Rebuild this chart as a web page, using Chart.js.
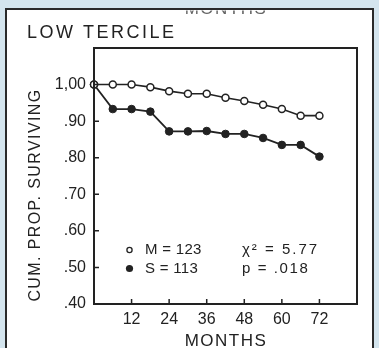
<!DOCTYPE html>
<html>
<head>
<meta charset="utf-8">
<script src="https://cdn.jsdelivr.net/npm/chart.js@4"></script>
<style>
  html, body { margin: 0; padding: 0; background: #d4e5ee; }
  #wrap { width: 379px; height: 348px; }
</style>
</head>
<body>
<div id="wrap"><canvas id="chart"></canvas></div>
<script>
// data
var months = [0, 6, 12, 18, 24, 30, 36, 42, 48, 54, 60, 66, 72];
var survM = [1.00, 1.00, 1.00, 0.993, 0.982, 0.975, 0.975, 0.964, 0.955, 0.945, 0.933, 0.915, 0.915];
var survS = [1.00, 0.933, 0.933, 0.926, 0.872, 0.872, 0.873, 0.865, 0.865, 0.854, 0.835, 0.835, 0.803];
var xTickValues = [12, 24, 36, 48, 60, 72];
var yTickValues = [1.00, 0.90, 0.80, 0.70, 0.60, 0.50, 0.40];
var yTickLabels = ['1,00', '.90', '.80', '.70', '.60', '.50', '.40'];

var ink = '#222';
var font = "'Liberation Sans', Arial, sans-serif";

function txt(ctx, s, x, y, size, align, spacing) {
    ctx.font = size + 'px ' + font;
    ctx.letterSpacing = (spacing || 0) + 'px';
    ctx.textAlign = align || 'left';
    ctx.fillText(s, x, y);
    ctx.letterSpacing = '0px';
}

var paperPlugin = {
    id: 'paper',
    beforeDraw: function (chart) {
        var ctx = chart.ctx;
        ctx.save();
        ctx.fillStyle = '#fff';
        ctx.fillRect(6, 9, 367, 360);
        ctx.strokeStyle = '#2a2a2a';
        ctx.lineWidth = 2;
        ctx.strokeRect(6, 9, 367, 360);

        // bottom of the previous panel's axis title, cut off at the top
        ctx.beginPath();
        ctx.rect(7, 10.5, 365, 20);
        ctx.clip();
        ctx.fillStyle = '#666';
        ctx.textBaseline = 'alphabetic';
        txt(ctx, 'MONTHS', 226, 14, 17, 'center', 1.5);
        ctx.restore();
    },
    afterDatasetsDraw: function (chart) {
        var ctx = chart.ctx;
        var a = chart.chartArea;
        var xs = chart.scales.x, ys = chart.scales.y;
        ctx.save();
        ctx.strokeStyle = ink;
        ctx.lineWidth = 2;
        ctx.strokeRect(a.left, a.top, a.right - a.left, a.bottom - a.top);

        // inward tick marks
        ctx.lineWidth = 1.5;
        ctx.beginPath();
        yTickValues.forEach(function (v) {
            var y = ys.getPixelForValue(v);
            ctx.moveTo(a.left, y);
            ctx.lineTo(a.left + 5, y);
        });
        xTickValues.forEach(function (v) {
            var x = xs.getPixelForValue(v);
            ctx.moveTo(x, a.bottom);
            ctx.lineTo(x, a.bottom - 5);
        });
        ctx.stroke();

        ctx.fillStyle = ink;
        ctx.textBaseline = 'alphabetic';
        txt(ctx, 'LOW TERCILE', 27, 38, 18, 'left', 2.5);
        txt(ctx, 'MONTHS', 226, 346, 17, 'center', 1.5);

        ctx.save();
        ctx.translate(36, 195);
        ctx.rotate(-Math.PI / 2);
        ctx.textBaseline = 'middle';
        txt(ctx, 'CUM. PROP. SURVIVING', 0, 0, 16, 'center', 1.4);
        ctx.restore();

        // legend and test result
        ctx.beginPath();
        ctx.arc(129.5, 250, 2.6, 0, Math.PI * 2);
        ctx.lineWidth = 1.3;
        ctx.stroke();
        ctx.beginPath();
        ctx.arc(129.5, 268.5, 3.6, 0, Math.PI * 2);
        ctx.fill();
        ctx.textBaseline = 'middle';
        txt(ctx, 'M = 123', 145, 250, 15, 'left', 0.3);
        txt(ctx, 'S = 113', 145, 268.5, 15, 'left', 0.3);
        txt(ctx, '\u03c7\u00b2 = 5.77', 242, 250, 15, 'left', 2);
        txt(ctx, 'p = .018', 242, 268.5, 15, 'left', 1.6);
        ctx.restore();
    }
};

new Chart(document.getElementById('chart'), {
    type: 'line',
    data: {
        labels: months,
        datasets: [
            {
                label: 'M',
                data: months.map(function (m, i) { return { x: m, y: survM[i] }; }),
                borderColor: ink,
                borderWidth: 1.6,
                backgroundColor: '#fff',
                pointBackgroundColor: '#fff',
                pointBorderColor: ink,
                pointBorderWidth: 1.5,
                pointRadius: 3.5,
                tension: 0,
                clip: false
            },
            {
                label: 'S',
                data: months.map(function (m, i) { return { x: m, y: survS[i] }; }),
                borderColor: ink,
                borderWidth: 1.8,
                backgroundColor: ink,
                pointBackgroundColor: ink,
                pointBorderColor: ink,
                pointBorderWidth: 1,
                pointRadius: 3.8,
                tension: 0,
                clip: false
            }
        ]
    },
    options: {
        responsive: true,
        maintainAspectRatio: false,
        animation: false,
        layout: { padding: { left: 34, top: 48, right: 22, bottom: 0 } },
        plugins: { legend: { display: false }, tooltip: { enabled: false } },
        scales: {
            x: {
                type: 'linear',
                min: 0,
                max: 84,
                grid: { display: false, drawTicks: false },
                border: { display: false },
                afterFit: function (s) { s.height = 44; },
                afterBuildTicks: function (s) {
                    s.ticks = xTickValues.map(function (v) { return { value: v }; });
                },
                ticks: {
                    color: ink,
                    padding: 6,
                    maxRotation: 0,
                    font: { family: font, size: 16 }
                }
            },
            y: {
                min: 0.40,
                max: 1.10,
                grid: { display: false, drawTicks: false },
                border: { display: false },
                afterFit: function (s) { s.width = 60; },
                afterBuildTicks: function (s) {
                    s.ticks = yTickValues.map(function (v) { return { value: v }; });
                },
                ticks: {
                    color: ink,
                    padding: 8,
                    font: { family: font, size: 16 },
                    callback: function (v) { return yTickLabels[yTickValues.indexOf(v)]; }
                }
            }
        }
    },
    plugins: [paperPlugin]
});
</script>
</body>
</html>
